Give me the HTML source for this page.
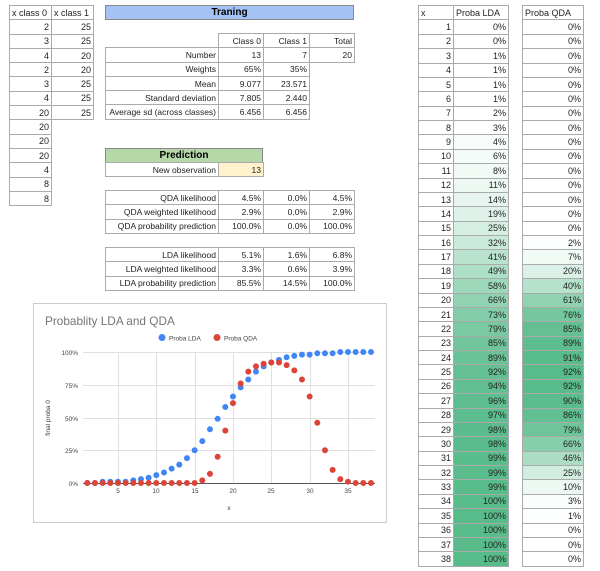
<!DOCTYPE html>
<html><head><meta charset="utf-8"><style>
body{margin:0;width:600px;height:571px;background:#fff;position:relative;overflow:hidden;font-family:"Liberation Sans",sans-serif}
.g{position:absolute;display:grid;font:9px "Liberation Sans",sans-serif;color:#222}
.g>div{border:1px solid #aaa;margin:0 -1px -1px 0;padding:0 2px;text-align:right;white-space:nowrap;overflow:hidden;display:flex;align-items:center;justify-content:flex-end}
.g>div.e{border:none}
.g>div.l{justify-content:flex-start}
.m{font-size:8.5px}
.hdr{position:absolute;font:bold 10px "Liberation Sans",sans-serif;text-align:center;box-sizing:border-box;border:1px solid #888;line-height:13px}
</style></head><body>

<div class="g" style="left:9px;top:5px;grid-template-columns:42px 42px;grid-template-rows:repeat(14,14.3px)">
<div class="l">x class 0</div><div class="l">x class 1</div>
<div>2</div><div>25</div>
<div>3</div><div>25</div>
<div>4</div><div>20</div>
<div>2</div><div>20</div>
<div>3</div><div>25</div>
<div>4</div><div>25</div>
<div>20</div><div>25</div>
<div>20</div><div class="e"></div>
<div>20</div><div class="e"></div>
<div>20</div><div class="e"></div>
<div>4</div><div class="e"></div>
<div>8</div><div class="e"></div>
<div>8</div><div class="e"></div>
</div>

<div class="hdr" style="left:105px;top:5px;width:249px;height:15px;background:#a4c2f4">Traning</div>

<div class="g m" style="left:105px;top:33px;grid-template-columns:113px 45px 46px 45px;grid-template-rows:repeat(6,14.3px)">
<div class="e"></div><div>Class 0</div><div>Class 1</div><div>Total</div>
<div>Number</div><div>13</div><div>7</div><div>20</div>
<div>Weights</div><div>65%</div><div>35%</div><div class="e"></div>
<div>Mean</div><div>9.077</div><div>23.571</div><div class="e"></div>
<div>Standard deviation</div><div>7.805</div><div>2.440</div><div class="e"></div>
<div>Average sd (across classes)</div><div>6.456</div><div>6.456</div><div class="e"></div>
</div>

<div class="hdr" style="left:105px;top:148px;width:158px;height:15px;background:#b6d7a8">Prediction</div>
<div class="g m" style="left:105px;top:162px;grid-template-columns:113px 45px;grid-template-rows:14.3px">
<div>New observation</div><div style="background:#fff2cc">13</div>
</div>

<div class="g m" style="left:105px;top:190px;grid-template-columns:113px 45px 46px 45px;grid-template-rows:repeat(3,14.3px)">
<div>QDA likelihood</div><div>4.5%</div><div>0.0%</div><div>4.5%</div>
<div>QDA weighted likelihood</div><div>2.9%</div><div>0.0%</div><div>2.9%</div>
<div>QDA probability prediction</div><div>100.0%</div><div>0.0%</div><div>100.0%</div>
</div>

<div class="g m" style="left:105px;top:247px;grid-template-columns:113px 45px 46px 45px;grid-template-rows:repeat(3,14.3px)">
<div>LDA likelihood</div><div>5.1%</div><div>1.6%</div><div>6.8%</div>
<div>LDA weighted likelihood</div><div>3.3%</div><div>0.6%</div><div>3.9%</div>
<div>LDA probability prediction</div><div>85.5%</div><div>14.5%</div><div>100.0%</div>
</div>

<div class="g" style="left:418px;top:5px;grid-template-columns:35px 55px;grid-template-rows:repeat(39,14.38px)">
<div class="l">x</div><div class="l">Proba LDA</div>
<div>1</div><div>0%</div>
<div>2</div><div>0%</div>
<div>3</div><div>1%</div>
<div>4</div><div>1%</div>
<div>5</div><div>1%</div>
<div>6</div><div>1%</div>
<div>7</div><div>2%</div>
<div>8</div><div>3%</div>
<div>9</div><div style="background:rgb(248,252,250)">4%</div>
<div>10</div><div style="background:rgb(245,251,248)">6%</div>
<div>11</div><div style="background:rgb(242,250,246)">8%</div>
<div>12</div><div style="background:rgb(237,248,242)">11%</div>
<div>13</div><div style="background:rgb(231,245,239)">14%</div>
<div>14</div><div style="background:rgb(223,242,233)">19%</div>
<div>15</div><div style="background:rgb(213,238,226)">25%</div>
<div>16</div><div style="background:rgb(201,233,218)">32%</div>
<div>17</div><div style="background:rgb(186,227,207)">41%</div>
<div>18</div><div style="background:rgb(173,222,198)">49%</div>
<div>19</div><div style="background:rgb(158,216,187)">58%</div>
<div>20</div><div style="background:rgb(144,210,178)">66%</div>
<div>21</div><div style="background:rgb(132,205,170)">73%</div>
<div>22</div><div style="background:rgb(122,201,163)">79%</div>
<div>23</div><div style="background:rgb(112,197,156)">85%</div>
<div>24</div><div style="background:rgb(105,195,151)">89%</div>
<div>25</div><div style="background:rgb(100,192,147)">92%</div>
<div>26</div><div style="background:rgb(97,191,145)">94%</div>
<div>27</div><div style="background:rgb(94,190,143)">96%</div>
<div>28</div><div style="background:rgb(92,189,142)">97%</div>
<div>29</div><div style="background:rgb(90,188,140)">98%</div>
<div>30</div><div style="background:rgb(90,188,140)">98%</div>
<div>31</div><div style="background:rgb(89,188,139)">99%</div>
<div>32</div><div style="background:rgb(89,188,139)">99%</div>
<div>33</div><div style="background:rgb(89,188,139)">99%</div>
<div>34</div><div style="background:rgb(87,187,138)">100%</div>
<div>35</div><div style="background:rgb(87,187,138)">100%</div>
<div>36</div><div style="background:rgb(87,187,138)">100%</div>
<div>37</div><div style="background:rgb(87,187,138)">100%</div>
<div>38</div><div style="background:rgb(87,187,138)">100%</div>
</div>

<div class="g" style="left:522px;top:5px;grid-template-columns:61px;grid-template-rows:repeat(39,14.38px)">
<div class="l">Proba QDA</div>
<div>0%</div><div>0%</div><div>0%</div><div>0%</div><div>0%</div>
<div>0%</div><div>0%</div><div>0%</div><div>0%</div><div>0%</div>
<div>0%</div><div>0%</div><div>0%</div><div>0%</div><div>0%</div>
<div style="background:rgb(251,254,252)">2%</div>
<div style="background:rgb(242,250,246)">7%</div>
<div style="background:rgb(219,240,230)">20%</div>
<div style="background:rgb(182,225,204)">40%</div>
<div style="background:rgb(144,210,177)">61%</div>
<div style="background:rgb(116,199,158)">76%</div>
<div style="background:rgb(100,192,147)">85%</div>
<div style="background:rgb(93,189,142)">89%</div>
<div style="background:rgb(89,188,139)">91%</div>
<div style="background:rgb(87,187,138)">92%</div>
<div style="background:rgb(87,187,138)">92%</div>
<div style="background:rgb(91,188,141)">90%</div>
<div style="background:rgb(98,191,146)">86%</div>
<div style="background:rgb(111,197,154)">79%</div>
<div style="background:rgb(135,206,171)">66%</div>
<div style="background:rgb(171,221,197)">46%</div>
<div style="background:rgb(209,237,223)">25%</div>
<div style="background:rgb(237,248,242)">10%</div>
<div style="background:rgb(249,253,251)">3%</div>
<div style="background:rgb(253,254,254)">1%</div>
<div>0%</div><div>0%</div><div>0%</div>
</div>

<svg style="position:absolute;left:0;top:0" width="600" height="571" font-family="Liberation Sans, sans-serif">
<rect x="33.5" y="303.5" width="353" height="219" fill="#fff" stroke="#ccc"/>
<text x="45" y="325" font-size="11.8" fill="#757575">Probablity LDA and QDA</text>
<circle cx="162" cy="337.5" r="3.5" fill="#4285f4"/>
<text x="169" y="340.5" font-size="6.5" fill="#444">Proba LDA</text>
<circle cx="217" cy="337.5" r="3.5" fill="#db4437"/>
<text x="224" y="340.5" font-size="6.5" fill="#444">Proba QDA</text>
<g stroke="#e0e0e0" stroke-width="1">
<line x1="83" x2="375" y1="352.5" y2="352.5"/>
<line x1="83" x2="375" y1="385.5" y2="385.5"/>
<line x1="83" x2="375" y1="418.5" y2="418.5"/>
<line x1="83" x2="375" y1="450.5" y2="450.5"/>
<line x1="118.5" x2="118.5" y1="352" y2="483"/>
<line x1="156.5" x2="156.5" y1="352" y2="483"/>
<line x1="195.5" x2="195.5" y1="352" y2="483"/>
<line x1="233.5" x2="233.5" y1="352" y2="483"/>
<line x1="271.5" x2="271.5" y1="352" y2="483"/>
<line x1="310.5" x2="310.5" y1="352" y2="483"/>
<line x1="348.5" x2="348.5" y1="352" y2="483"/>
</g>
<line x1="83" x2="375" y1="483.5" y2="483.5" stroke="#555"/>
<g font-size="6.5" fill="#444" text-anchor="end">
<text x="78" y="355">100%</text><text x="78" y="388">75%</text><text x="78" y="421">50%</text><text x="78" y="453">25%</text><text x="78" y="486">0%</text>
</g>
<g font-size="6.5" fill="#444" text-anchor="middle">
<text x="118" y="493">5</text><text x="156" y="493">10</text><text x="195" y="493">15</text><text x="233" y="493">20</text><text x="271" y="493">25</text><text x="310" y="493">30</text><text x="348" y="493">35</text>
<text x="229" y="510">x</text>
</g>
<text transform="translate(50,418) rotate(-90)" font-size="6.5" fill="#444" text-anchor="middle">final proba 0</text>
<g transform="matrix(7.667,0,0,-1.31,79.63,483)" fill="none" stroke-linecap="round">
<path stroke="#4285f4" stroke-width="6" vector-effect="non-scaling-stroke" d="M1 0h0M2 0h0M3 1h0M4 1h0M5 1h0M6 1h0M7 2h0M8 3h0M9 4h0M10 6h0M11 8h0M12 11h0M13 14h0M14 19h0M15 25h0M16 32h0M17 41h0M18 49h0M19 58h0M20 66h0M21 73h0M22 79h0M23 85h0M24 89h0M25 92h0M26 94h0M27 96h0M28 97h0M29 98h0M30 98h0M31 99h0M32 99h0M33 99h0M34 100h0M35 100h0M36 100h0M37 100h0M38 100h0"/>
<path stroke="#db4437" stroke-width="6" vector-effect="non-scaling-stroke" d="M1 0h0M2 0h0M3 0h0M4 0h0M5 0h0M6 0h0M7 0h0M8 0h0M9 0h0M10 0h0M11 0h0M12 0h0M13 0h0M14 0h0M15 0h0M16 2h0M17 7h0M18 20h0M19 40h0M20 61h0M21 76h0M22 85h0M23 89h0M24 91h0M25 92h0M26 92h0M27 90h0M28 86h0M29 79h0M30 66h0M31 46h0M32 25h0M33 10h0M34 3h0M35 1h0M36 0h0M37 0h0M38 0h0"/>
</g>
</svg>
</body></html>
